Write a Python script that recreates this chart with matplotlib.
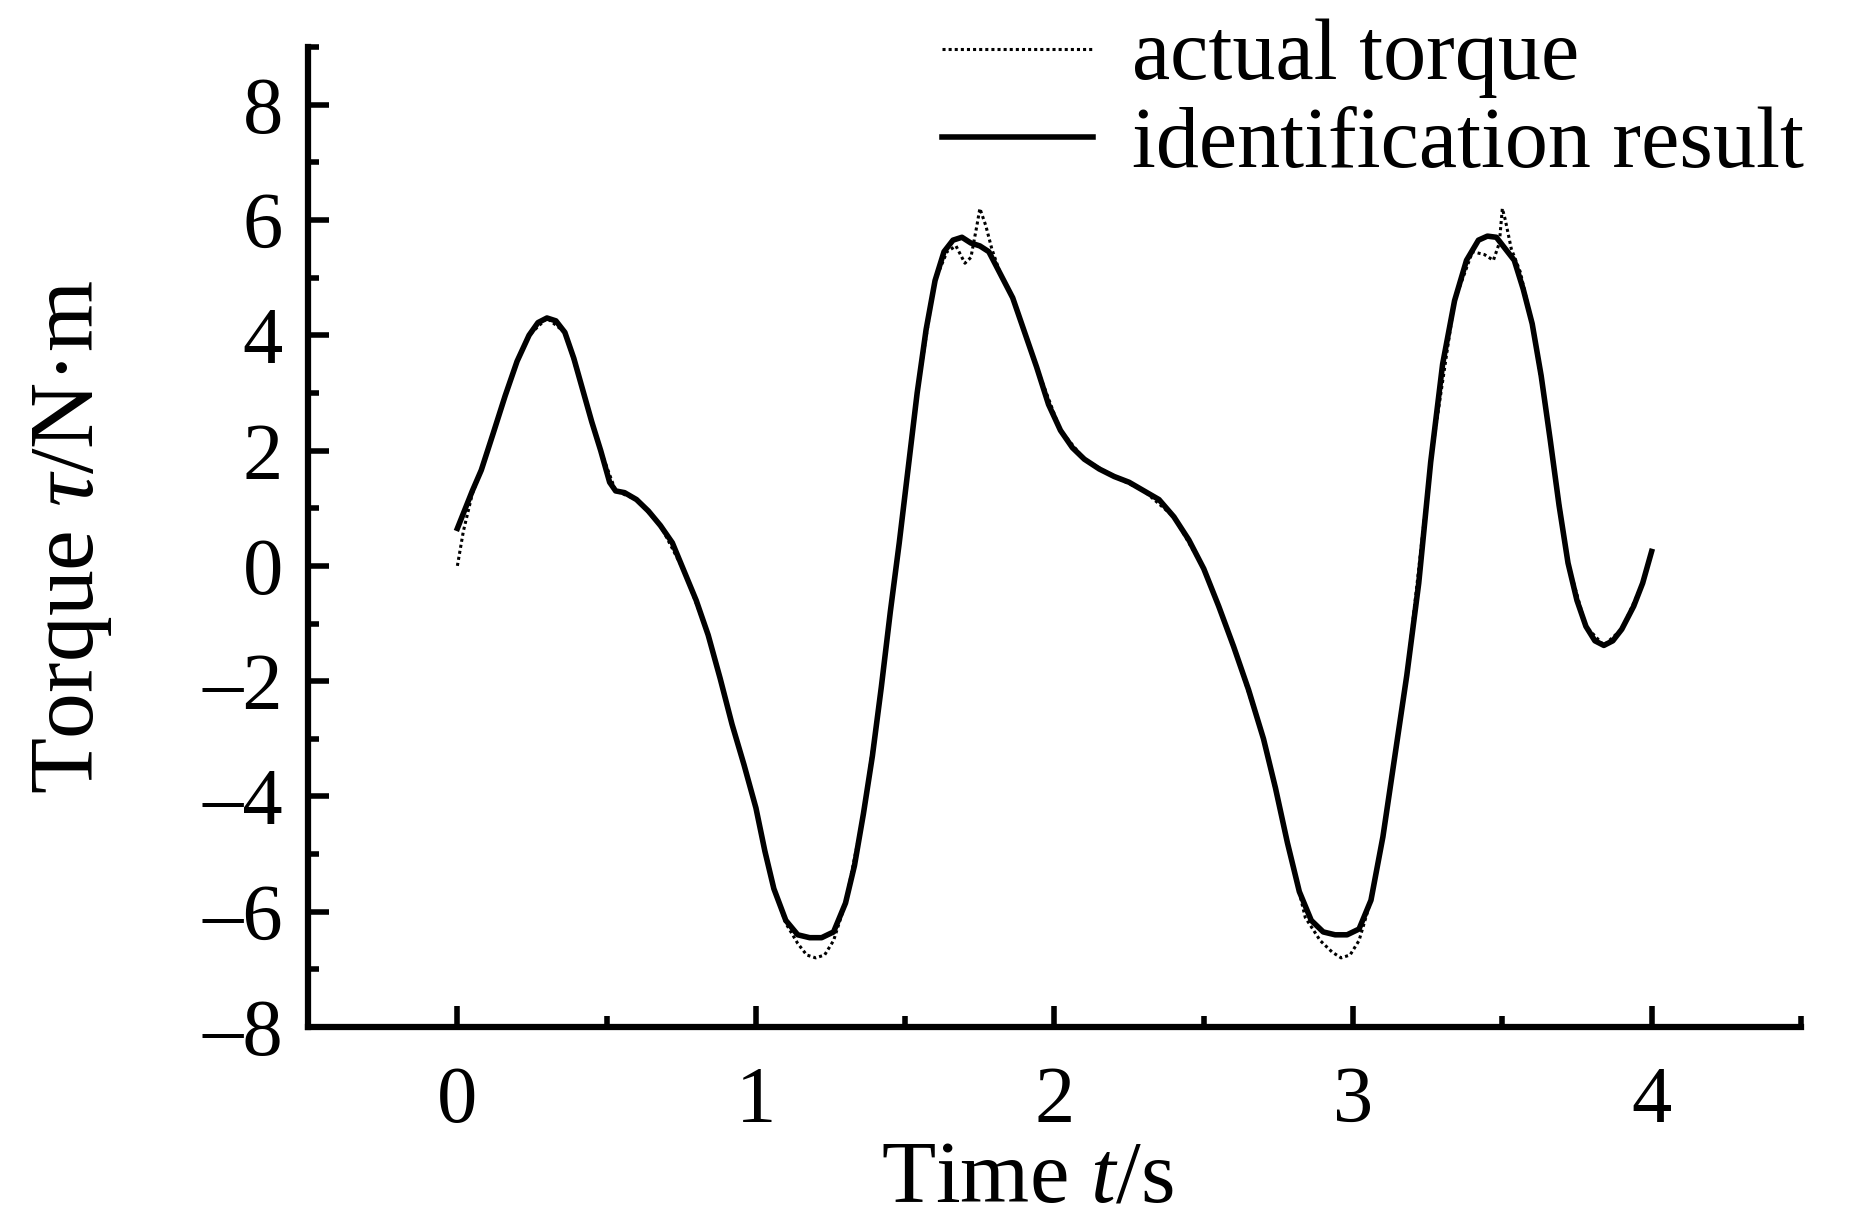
import matplotlib
matplotlib.use('Agg')
import matplotlib.pyplot as plt
from matplotlib.ticker import MultipleLocator

plt.rcParams['font.family'] = ['Liberation Serif', 'DejaVu Serif']
plt.rcParams['mathtext.fontset'] = 'custom'
plt.rcParams['mathtext.rm'] = 'Liberation Serif'
plt.rcParams['mathtext.it'] = 'Liberation Serif:italic'

# identification result (solid)
t_fit = [0.00, 0.05, 0.08, 0.12, 0.16, 0.20, 0.24, 0.27, 0.30, 0.33, 0.36, 0.39,
         0.42, 0.45, 0.48, 0.51, 0.53, 0.56, 0.60, 0.64, 0.68, 0.72, 0.76, 0.80,
         0.84, 0.88, 0.92, 0.96, 1.00, 1.03, 1.06, 1.10, 1.14, 1.18, 1.22, 1.26,
         1.30, 1.33, 1.36, 1.39, 1.42, 1.45, 1.48, 1.51, 1.54, 1.57, 1.60, 1.63,
         1.66, 1.69, 1.72, 1.75, 1.78, 1.82, 1.86, 1.90, 1.94, 1.98, 2.02, 2.06,
         2.10, 2.15, 2.20, 2.25, 2.30, 2.35, 2.40, 2.45, 2.50, 2.55, 2.60, 2.65,
         2.70, 2.74, 2.78, 2.82, 2.86, 2.90, 2.94, 2.98, 3.02, 3.06, 3.10, 3.14,
         3.18, 3.22, 3.26, 3.30, 3.34, 3.38, 3.42, 3.45, 3.48, 3.51, 3.54, 3.57,
         3.60, 3.63, 3.66, 3.69, 3.72, 3.75, 3.78, 3.81, 3.84, 3.87, 3.90, 3.94,
         3.97, 4.00]
tau_fit = [0.65, 1.30, 1.66, 2.30, 2.95, 3.55, 4.00, 4.22, 4.30, 4.25, 4.05, 3.60,
           3.05, 2.50, 2.00, 1.45, 1.30, 1.27, 1.15, 0.95, 0.70, 0.40, -0.10, -0.60,
           -1.20, -1.95, -2.75, -3.45, -4.20, -4.95, -5.60, -6.15, -6.40, -6.45, -6.45, -6.35,
           -5.85, -5.20, -4.30, -3.30, -2.10, -0.80, 0.40, 1.70, 3.00, 4.10, 4.95, 5.45,
           5.65, 5.70, 5.60, 5.55, 5.45, 5.05, 4.65, 4.05, 3.45, 2.80, 2.35, 2.05,
           1.85, 1.68, 1.55, 1.45, 1.30, 1.15, 0.85, 0.45, -0.05, -0.70, -1.40, -2.15,
           -3.00, -3.85, -4.80, -5.65, -6.15, -6.35, -6.40, -6.40, -6.30, -5.80, -4.70, -3.30,
           -1.90, -0.30, 1.80, 3.50, 4.60, 5.30, 5.65, 5.72, 5.70, 5.50, 5.30, 4.80,
           4.20, 3.30, 2.20, 1.05, 0.05, -0.60, -1.05, -1.30, -1.38, -1.30, -1.10, -0.70,
           -0.30, 0.25]

# actual torque (dotted)
t_act = [0.00, 0.02, 0.05, 0.08, 0.12, 0.16, 0.20, 0.24, 0.30, 0.36, 0.42, 0.48,
         0.53, 0.60, 0.68, 0.76, 0.84, 0.92, 1.00, 1.06, 1.10, 1.14, 1.17, 1.20,
         1.23, 1.26, 1.30, 1.36, 1.42, 1.48, 1.54, 1.60, 1.64, 1.67, 1.70, 1.72,
         1.74, 1.75, 1.77, 1.79, 1.82, 1.86, 1.94, 2.02, 2.10, 2.20, 2.30, 2.40,
         2.50, 2.60, 2.70, 2.78, 2.84, 2.89, 2.93, 2.96, 2.99, 3.02, 3.06, 3.10,
         3.18, 3.26, 3.34, 3.40, 3.44, 3.47, 3.49, 3.50, 3.51, 3.53, 3.56, 3.60,
         3.66, 3.72, 3.78, 3.84, 3.90, 3.97, 4.00]
tau_act = [0.00, 0.60, 1.25, 1.66, 2.30, 2.95, 3.55, 4.00, 4.30, 4.05, 3.05, 2.00,
           1.30, 1.15, 0.70, -0.10, -1.20, -2.75, -4.20, -5.60, -6.20, -6.55, -6.75, -6.80,
           -6.75, -6.50, -5.85, -4.30, -2.10, 0.40, 3.00, 4.95, 5.45, 5.55, 5.25, 5.35,
           5.90, 6.20, 5.90, 5.50, 5.05, 4.65, 3.45, 2.35, 1.85, 1.55, 1.30, 0.85,
           -0.05, -1.40, -3.00, -4.80, -6.10, -6.50, -6.70, -6.80, -6.75, -6.50, -5.80, -4.70,
           -1.90, 1.80, 4.60, 5.45, 5.40, 5.30, 5.60, 6.20, 6.00, 5.50, 5.10, 4.20,
           2.20, 0.05, -1.05, -1.38, -1.10, -0.30, 0.25]

xticks = [0, 1, 2, 3, 4]
yticks = [-8, -6, -4, -2, 0, 2, 4, 6, 8]
ytick_labels = ['–8', '–6', '–4', '–2', '0', '2', '4', '6', '8']

fig = plt.figure(figsize=(18.73, 12.25), dpi=100)
ax = fig.add_axes([0.1645, 0.1616, 0.797, 0.80])

ax.plot(t_act, tau_act, color='black', linestyle=(0, (1, 1)), linewidth=2.2,
        label='actual torque')
ax.plot(t_fit, tau_fit, color='black', linestyle='-', linewidth=4,
        label='identification result')

ax.set_xlim(-0.5, 4.5)
ax.set_ylim(-8, 9)

for side in ['top', 'right']:
    ax.spines[side].set_visible(False)
for side in ['left', 'bottom']:
    ax.spines[side].set_linewidth(4.5)

ax.set_xticks(xticks)
ax.set_yticks(yticks)
ax.set_yticklabels(ytick_labels)
ax.xaxis.set_minor_locator(MultipleLocator(0.5))
ax.yaxis.set_minor_locator(MultipleLocator(1))
ax.tick_params(axis='both', which='major', direction='in', length=15, width=4,
               labelsize=58)
ax.tick_params(axis='both', which='minor', direction='in', length=8, width=4)
ax.tick_params(axis='x', which='major', pad=28)
ax.tick_params(axis='y', which='major', pad=18)

ax.set_xlabel('Time $\\mathit{t}$/s', fontsize=64)
ax.xaxis.set_label_coords(0.482, -0.115)
ax.set_ylabel('Torque $\\mathit{\\tau}$/N·m', fontsize=66)
ax.yaxis.set_label_coords(-0.13, 0.5)

ax.legend(loc='upper left', bbox_to_anchor=(0.503, 0.985),
          bbox_transform=fig.transFigure, frameon=False, fontsize=62,
          handlelength=1.75, handletextpad=0.45, labelspacing=0.1,
          borderpad=0, borderaxespad=0)

fig.savefig('out.png', dpi=100)
